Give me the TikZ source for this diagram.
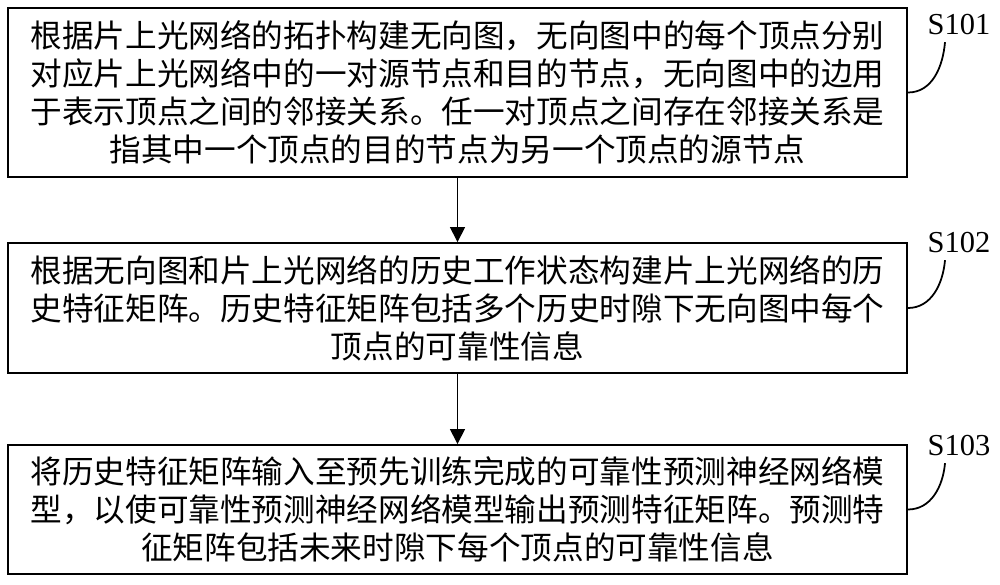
\documentclass[tikz,border=0pt]{standalone}
\usepackage{fontspec}
\setmainfont{Liberation Serif}
\newfontfamily\cjk{Noto Sans CJK SC}
\usetikzlibrary{arrows.meta}

\begin{document}
\begin{tikzpicture}[
  stepbox/.style={draw,line width=1.6pt,minimum width=26.97cm,align=center,inner sep=0pt,
    font=\cjk\fontsize{27}{32.4}\selectfont},
  steplabel/.style={inner sep=0pt,font=\fontsize{26}{30}\selectfont},
  leader/.style={line width=1.5pt},
  flow/.style={line width=1.2pt,-{Triangle[length=0.45cm,width=0.45cm]}}
]
  \useasboundingbox (0,0) rectangle (30,-17.52);

  % Steps
  \node[stepbox,minimum height=5.07cm] (s1) at (13.725,-2.775)
    {根据片上光网络的拓扑构建无向图，无向图中的每个顶点分别\\
     对应片上光网络中的一对源节点和目的节点，无向图中的边用\\
     于表示顶点之间的邻接关系。任一对顶点之间存在邻接关系是\\
     指其中一个顶点的目的节点为另一个顶点的源节点};
  \node[stepbox,minimum height=3.9cm] (s2) at (13.725,-9.24)
    {根据无向图和片上光网络的历史工作状态构建片上光网络的历\\
     史特征矩阵。历史特征矩阵包括多个历史时隙下无向图中每个\\
     顶点的可靠性信息};
  \node[stepbox,minimum height=3.87cm] (s3) at (13.725,-15.285)
    {将历史特征矩阵输入至预先训练完成的可靠性预测神经网络模\\
     型，以使可靠性预测神经网络模型输出预测特征矩阵。预测特\\
     征矩阵包括未来时隙下每个顶点的可靠性信息};

  % Flow
  \draw[flow] (s1) -- (s2);
  \draw[flow] (s2) -- (s3);

  % Step labels
  \node[steplabel] (l1) at (28.77,-0.75) {S101};
  \node[steplabel] (l2) at (28.77,-7.29) {S102};
  \node[steplabel] (l3) at (28.77,-13.38) {S103};
  \draw[leader] (s1.east) to[out=0,in=-95] ([xshift=-0.42cm,yshift=-0.2cm]l1.south);
  \draw[leader] (s2.east) to[out=0,in=-95] ([xshift=-0.42cm,yshift=-0.2cm]l2.south);
  \draw[leader] (s3.east) to[out=0,in=-95] ([xshift=-0.42cm,yshift=-0.2cm]l3.south);
\end{tikzpicture}
\end{document}
